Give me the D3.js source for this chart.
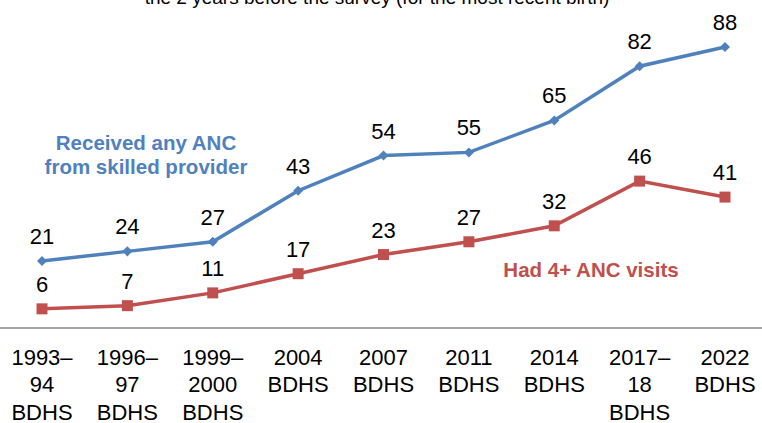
<!DOCTYPE html>
<html>
<head>
<meta charset="utf-8">
<script src="https://cdn.jsdelivr.net/npm/d3@7"></script>
<style>
  body { margin: 0; background: #fff; }
  text { font-family: "Liberation Sans", Arial, sans-serif; }
</style>
</head>
<body>
<div id="canvas"></div>
<script>
// data
var categories = ['1993–94 BDHS', '1996–97 BDHS', '1999–2000 BDHS', '2004 BDHS', '2007 BDHS',
                  '2011 BDHS', '2014 BDHS', '2017–18 BDHS', '2022 BDHS'];
var tickLines = [['1993–', '94', 'BDHS'], ['1996–', '97', 'BDHS'], ['1999–', '2000', 'BDHS'],
                 ['2004', 'BDHS'], ['2007', 'BDHS'], ['2011', 'BDHS'], ['2014', 'BDHS'],
                 ['2017–', '18', 'BDHS'], ['2022', 'BDHS']];
var anySkilled = [21, 24, 27, 43, 54, 55, 65, 82, 88];
var fourPlus = [6, 7, 11, 17, 23, 27, 32, 46, 41];

var blue = '#4F81BD';
var red = '#C0504D';

var W = 762, H = 423;

var svg = d3.select('#canvas')
    .append('svg')
    .attr('width', W)
    .attr('height', H);

var x = d3.scalePoint()
    .domain(categories)
    .range([42, 725]);

var y = d3.scaleLinear()
    .domain([0, 100])
    .range([328, 8.7]);

// title (cut off at top, as in the source)
svg.append('text')
    .attr('x', 377)
    .attr('y', 4)
    .attr('text-anchor', 'middle')
    .style('font-size', '19px')
    .attr('fill', '#000')
    .text('the 2 years before the survey (for the most recent birth)');

// axis line
svg.append('line')
    .attr('x1', 0)
    .attr('x2', W)
    .attr('y1', y(0))
    .attr('y2', y(0))
    .attr('stroke', '#868686')
    .attr('stroke-width', 1.5);

// tick labels
var ticks = svg.selectAll('.tick')
    .data(categories)
    .enter()
    .append('text')
    .attr('class', 'tick')
    .attr('text-anchor', 'middle')
    .style('font-size', '22px')
    .attr('fill', '#000');

ticks.selectAll('tspan')
    .data(function(d, i) { return tickLines[i]; })
    .enter()
    .append('tspan')
    .attr('x', function() { return x(d3.select(this.parentNode).datum()); })
    .attr('y', function(d, i) { return 365 + i * 27.3; })
    .text(function(d) { return d; });

var line = d3.line()
    .x(function(d, i) { return x(categories[i]); })
    .y(function(d) { return y(d); });

function series(values, color, symbol, size) {
    svg.append('path')
        .datum(values)
        .attr('d', line)
        .attr('fill', 'none')
        .attr('stroke', color)
        .attr('stroke-width', 3.5);

    svg.selectAll(null)
        .data(values)
        .enter()
        .append('path')
        .attr('d', d3.symbol().type(symbol).size(size))
        .attr('transform', function(d, i) {
            return 'translate(' + x(categories[i]) + ',' + y(d) + ')';
        })
        .attr('fill', color);

    svg.selectAll(null)
        .data(values)
        .enter()
        .append('text')
        .attr('x', function(d, i) { return x(categories[i]); })
        .attr('y', function(d) { return y(d) - 17; })
        .attr('text-anchor', 'middle')
        .style('font-size', '22px')
        .attr('fill', '#000')
        .text(function(d) { return d; });
}

series(anySkilled, blue, d3.symbolDiamond2, 64);
series(fourPlus, red, d3.symbolSquare, 121);

// series labels
svg.append('text')
    .attr('text-anchor', 'middle')
    .style('font-size', '20.5px')
    .style('font-weight', 'bold')
    .attr('fill', blue)
    .selectAll('tspan')
    .data(['Received any ANC', 'from skilled provider'])
    .enter()
    .append('tspan')
    .attr('x', 146)
    .attr('y', function(d, i) { return 150 + i * 24; })
    .text(function(d) { return d; });

svg.append('text')
    .attr('x', 591)
    .attr('y', 277)
    .attr('text-anchor', 'middle')
    .style('font-size', '20.5px')
    .style('font-weight', 'bold')
    .attr('fill', red)
    .text('Had 4+ ANC visits');
</script>
</body>
</html>
